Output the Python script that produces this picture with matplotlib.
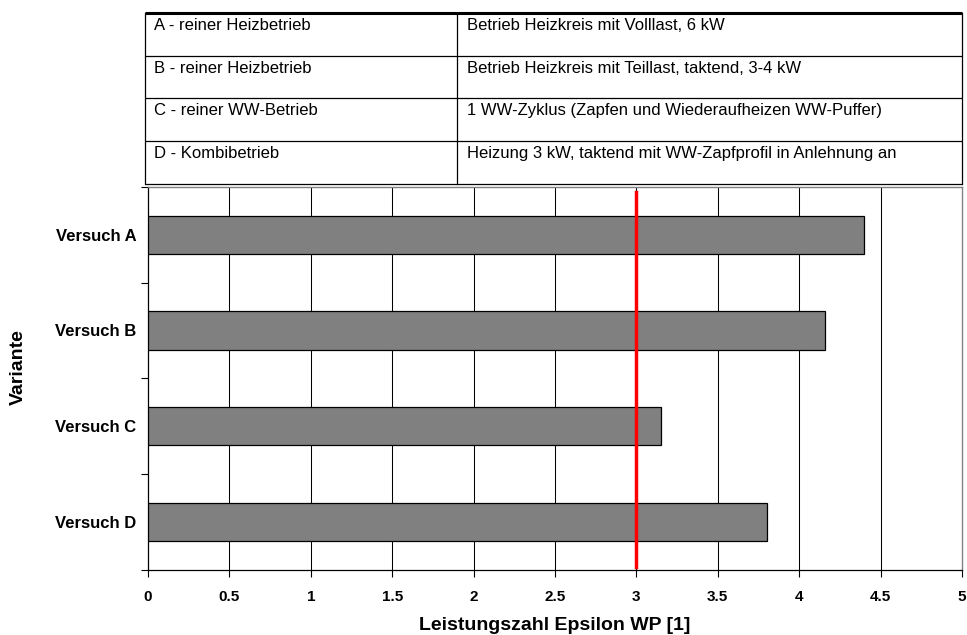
import matplotlib
matplotlib.use("Agg")
import matplotlib.pyplot as plt
import numpy as np

plt.rcParams['font.family'] = ['Liberation Sans', 'DejaVu Sans']

categories = ["Versuch A", "Versuch B", "Versuch C", "Versuch D"]
values = [4.40, 4.16, 3.15, 3.80]
reference_value = 3.0
xticks = [0, 0.5, 1, 1.5, 2, 2.5, 3, 3.5, 4, 4.5, 5]
xtick_labels = ["0", "0.5", "1", "1.5", "2", "2.5", "3", "3.5", "4", "4.5", "5"]
table_col1 = ["A - reiner Heizbetrieb", "B - reiner Heizbetrieb",
              "C - reiner WW-Betrieb", "D - Kombibetrieb"]
table_col2 = ["Betrieb Heizkreis mit Volllast, 6 kW",
              "Betrieb Heizkreis mit Teillast, taktend, 3-4 kW",
              "1 WW-Zyklus (Zapfen und Wiederaufheizen WW-Puffer)",
              "Heizung 3 kW, taktend mit WW-Zapfprofil in Anlehnung an"]
xlabel = "Leistungszahl Epsilon WP [1]"
ylabel = "Variante"

W, H = 967, 635
fig = plt.figure(figsize=(W / 100, H / 100), dpi=100)

# ---- main chart ----
ax_top, ax_bot = 187, 569.5
ax = fig.add_axes([148 / W, 1 - ax_bot / H, (962 - 148) / W, (ax_bot - ax_top) / H])
y = np.arange(len(categories))
ax.barh(y, values, height=0.4, color="#808080", edgecolor="black", linewidth=0.9, zorder=3)
ax.set_ylim(len(categories) - 0.5, -0.5)
ax.set_xlim(0, 5)
ax.axvline(reference_value, ymin=0.007, ymax=0.988, color="#ff0000", linewidth=2.5, zorder=4)

for xv in xticks[1:-1]:
    ax.axvline(xv, color="black", linewidth=0.75, zorder=1)

ax.set_xticks(xticks)
ax.set_xticklabels(xtick_labels, fontsize=11, fontweight="bold")
ax.set_yticks(y)
ax.set_yticklabels(categories, fontsize=12, fontweight="bold")
ax.tick_params(axis="y", length=0, pad=8.5)
ax.set_yticks(np.arange(-0.5, len(categories), 1.0), minor=True)
ax.tick_params(axis="y", which="minor", length=5, width=0.8, direction="out")
ax.tick_params(axis="x", length=5, width=0.8, direction="out", pad=10)

for s in ["top", "right"]:
    ax.spines[s].set_color("#808080")
    ax.spines[s].set_linewidth(1.0)
for s in ["left", "bottom"]:
    ax.spines[s].set_color("black")
    ax.spines[s].set_linewidth(0.9)

ax.set_xlabel(xlabel, fontsize=14, fontweight="bold")
ax.xaxis.set_label_coords(0.5, -(630.5 - ax_bot) / (ax_bot - ax_top))
ax.xaxis.label.set_va("baseline")
ax.set_ylabel(ylabel, fontsize=14, fontweight="bold")
ax.yaxis.set_label_coords((27 - 148) / (962 - 148), (ax_bot - 367.5) / (ax_bot - ax_top))

# ---- description table ----
tab_l, tab_r, tab_t, tab_b = 145, 962.5, 13, 183.5
tax = fig.add_axes([tab_l / W, 1 - tab_b / H, (tab_r - tab_l) / W, (tab_b - tab_t) / H])
tax.set_xlim(tab_l, tab_r)
tax.set_ylim(tab_b, tab_t)
tax.axis("off")
nrows = len(table_col1)
row_h = (tab_b - tab_t) / nrows
col_split = 457
lw = 0.9
for i in range(nrows + 1):
    yy = tab_t + i * row_h
    tax.plot([tab_l, tab_r], [yy, yy], color="black", linewidth=(2.2 if i == 0 else lw),
             solid_capstyle="butt", clip_on=False)
for xx in [tab_l, col_split, tab_r]:
    tax.plot([xx, xx], [tab_t, tab_b], color="black", linewidth=lw, clip_on=False)
for i, (c1, c2) in enumerate(zip(table_col1, table_col2)):
    ty = tab_t + i * row_h + 17
    tax.text(tab_l + 9, ty, c1, fontsize=12, va="baseline", ha="left")
    tax.text(col_split + 10, ty, c2, fontsize=12, va="baseline", ha="left")

fig.savefig("out.png", dpi=100)
